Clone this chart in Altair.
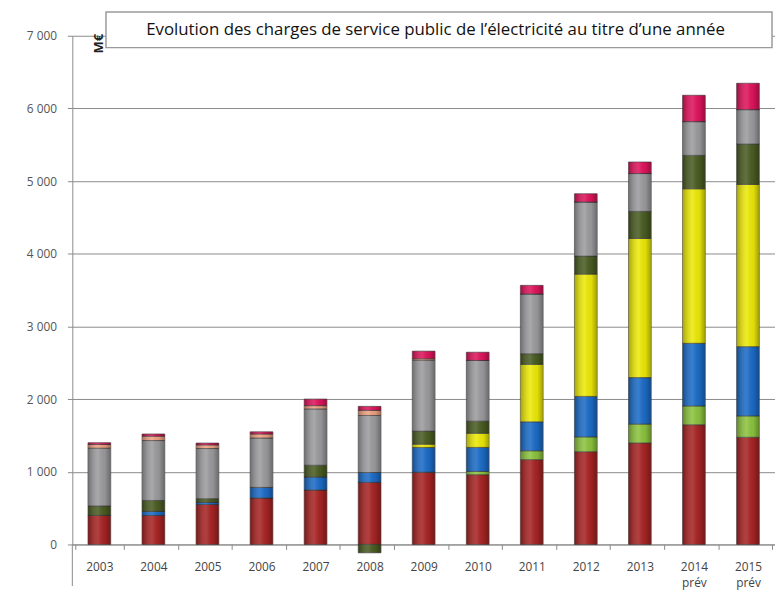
import altair as alt
import pandas as pd

years = ["2003", "2004", "2005", "2006", "2007", "2008", "2009", "2010",
         "2011", "2012", "2013", "2014 prév", "2015 prév"]

series = ["ZNI", "Biomasse", "Éolien", "Photovoltaïque", "Autres EnR",
          "Cogénération", "Autres", "Dispositifs sociaux"]
colors = ["#A82424", "#8CC43E", "#1C6CC8", "#EDEA08", "#4A5C22",
          "#9C9C9F", "#EFA282", "#E0145C"]

zni = [400, 400, 550, 640, 750, 855, 995, 960, 1167, 1276, 1397, 1647, 1475]
biomasse = [0, 0, 0, 0, 0, 0, 0, 45, 122, 204, 259, 259, 294]
eolien = [0, 55, 30, 145, 180, 135, 340, 330, 398, 557, 640, 862, 953]
pv = [0, 0, 0, 0, 0, 0, 45, 195, 792, 1683, 1915, 2126, 2233]
autres_enr = [130, 150, 50, 0, 160, -115, 180, 167, 145, 248, 372, 460, 555]
cogen = [795, 825, 690, 680, 775, 785, 975, 835, 823, 745, 521, 465, 474]
autres = [50, 60, 50, 55, 45, 70, 20, 0, 0, 0, 0, 0, 0]
social = [25, 30, 25, 30, 90, 55, 105, 113, 118, 113, 159, 362, 362]

y_ticks = [0, 1000, 2000, 3000, 4000, 5000, 6000, 7000]
title_text = "Evolution des charges de service public de l’électricité au titre d’une année"
unit_text = "M€"

values = [zni, biomasse, eolien, pv, autres_enr, cogen, autres, social]
rows = []
for si, (name, vals) in enumerate(zip(series, values)):
    for y, v in zip(years, vals):
        rows.append({"annee": y, "poste": name, "ordre": si, "valeur": v})
df = pd.DataFrame(rows)

W, H = 710, 514
BAR = 23

x_enc = alt.X("annee:N", sort=years, title=None,
              axis=alt.Axis(labelAngle=0, tickBand="extent", labelPadding=12,
                            labelExpr="split(datum.label, ' ')",
                            labelFont="Open Sans", labelFontSize=12,
                            labelColor="#444", domainColor="#8a8a8a",
                            tickColor="#8a8a8a", tickSize=5, labelLineHeight=17))
y_enc = alt.Y("valeur:Q", stack="zero", title=None,
              scale=alt.Scale(domain=[0, 7000], nice=False),
              axis=alt.Axis(values=y_ticks,
                            labelExpr="replace(format(datum.value, ','), ',', ' ')",
                            labelFont="Open Sans", labelFontSize=12,
                            labelColor="#555", domainColor="#8a8a8a",
                            tickColor="#8a8a8a", tickSize=5, gridColor="#8a8a8a",
                            gridWidth=1, labelPadding=11,
                            minExtent=60, maxExtent=60))

bars = alt.Chart(df).mark_bar(
    size=BAR, stroke="#3a3a3a", strokeWidth=0.8, strokeOpacity=0.8
).encode(
    x=x_enc, y=y_enc,
    color=alt.Color("poste:N", scale=alt.Scale(domain=series, range=colors),
                    legend=None),
    order=alt.Order("ordre:Q"),
)

shade = alt.Chart(df).mark_bar(
    size=BAR - 1,
    color=alt.LinearGradient(
        gradient="linear", x1=0, x2=1, y1=0, y2=0,
        stops=[alt.GradientStop(color="rgba(0,0,0,0.28)", offset=0),
               alt.GradientStop(color="rgba(255,255,255,0.12)", offset=0.45),
               alt.GradientStop(color="rgba(0,0,0,0.05)", offset=0.75),
               alt.GradientStop(color="rgba(0,0,0,0.30)", offset=1)]),
).encode(
    x=alt.X("annee:N", sort=years),
    y=alt.Y("valeur:Q", stack="zero"),
    detail="poste:N",
    order=alt.Order("ordre:Q"),
)

axis_ext = alt.Chart(pd.DataFrame({"a": [0]})).mark_rule(
    color="#8a8a8a", strokeWidth=1
).encode(x=alt.value(0), y=alt.value(H), y2=alt.value(H + 42))

title_box = alt.Chart(pd.DataFrame({"t": [title_text]})).mark_rect(
    fill="white", stroke="#9a9a9a", strokeWidth=1.5
).encode(x=alt.value(34), x2=alt.value(707), y=alt.value(-24), y2=alt.value(12))

title_lbl = alt.Chart(pd.DataFrame({"t": [title_text]})).mark_text(
    font="Open Sans", fontSize=17, color="#111", align="center",
    baseline="middle"
).encode(text="t:N", x=alt.value(367), y=alt.value(-6))

unit_lbl = alt.Chart(pd.DataFrame({"t": [unit_text]})).mark_text(
    font="Open Sans", fontSize=13, fontWeight="bold", color="#222",
    angle=270, align="center", baseline="middle"
).encode(text="t:N", x=alt.value(27), y=alt.value(8))

chart = alt.layer(bars, shade, axis_ext, title_box, title_lbl, unit_lbl).properties(
    width=W, height=H,
    padding={"left": 5, "top": 0, "right": 0, "bottom": 0},
    background="white",
).configure_view(stroke=None)

chart.save("out.html", embed_options={"renderer": "svg", "actions": False})
